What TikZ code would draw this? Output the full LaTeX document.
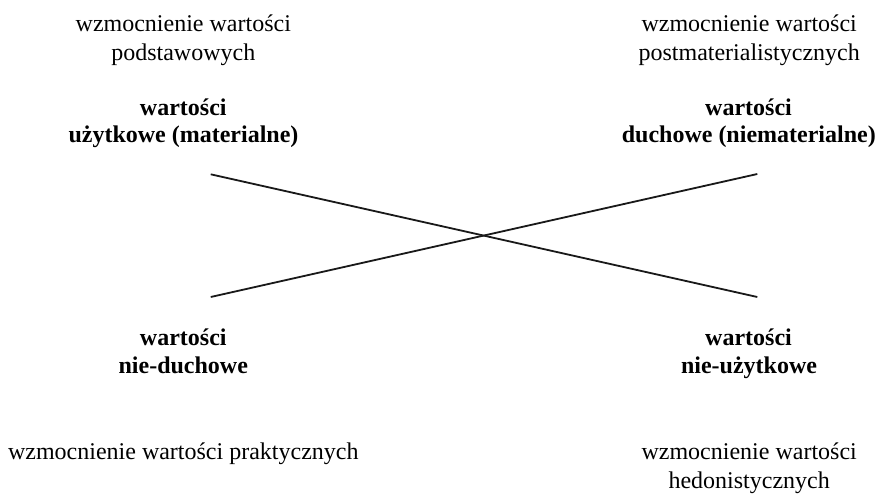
\documentclass[tikz,border=0pt]{standalone}
\usepackage{fontspec}
\setmainfont{Liberation Serif}
\begin{document}
\begin{tikzpicture}[x=1pt,y=-1pt,
  plain/.style={anchor=base,inner sep=0pt,font=\fontsize{24}{28}\selectfont},
  boldtxt/.style={anchor=base,inner sep=0pt,font=\fontsize{24}{28}\selectfont\bfseries},
  crossline/.style={line width=1.8pt,draw=black!90}]
\useasboundingbox (0,0) rectangle (878,493);
% top left
\node[plain] (tl1) at (183.3,31.7) {wzmocnienie wartości};
\node[plain] (tl2) at (183.3,60) {podstawowych};
\node[boldtxt] (tlb1) at (183.3,115) {wartości};
\node[boldtxt] (tlb2) at (183.5,142.5) {użytkowe (materialne)};
% top right
\node[plain] (tr1) at (749.2,31.7) {wzmocnienie wartości};
\node[plain] (tr2) at (749.2,60) {postmaterialistycznych};
\node[boldtxt] (trb1) at (748.5,115) {wartości};
\node[boldtxt] (trb2) at (748.8,142.5) {duchowe (niematerialne)};
% bottom left
\node[boldtxt] (blb1) at (183.3,345) {wartości};
\node[boldtxt] (blb2) at (183.3,373.5) {nie-duchowe};
\node[plain] (bl1) at (183.3,459.5) {wzmocnienie wartości praktycznych};
% bottom right
\node[boldtxt] (brb1) at (748.5,345) {wartości};
\node[boldtxt] (brb2) at (749,373.5) {nie-użytkowe};
\node[plain] (br1) at (749.2,459.5) {wzmocnienie wartości};
\node[plain] (br2) at (749.2,488) {hedonistycznych};
% crossing lines
\coordinate (a) at (210.7,174.3);
\coordinate (b) at (757.3,297);
\coordinate (c) at (210.7,297);
\coordinate (d) at (757.3,174);
\draw[crossline] (a) -- (b);
\draw[crossline] (c) -- (d);
\end{tikzpicture}
\end{document}
